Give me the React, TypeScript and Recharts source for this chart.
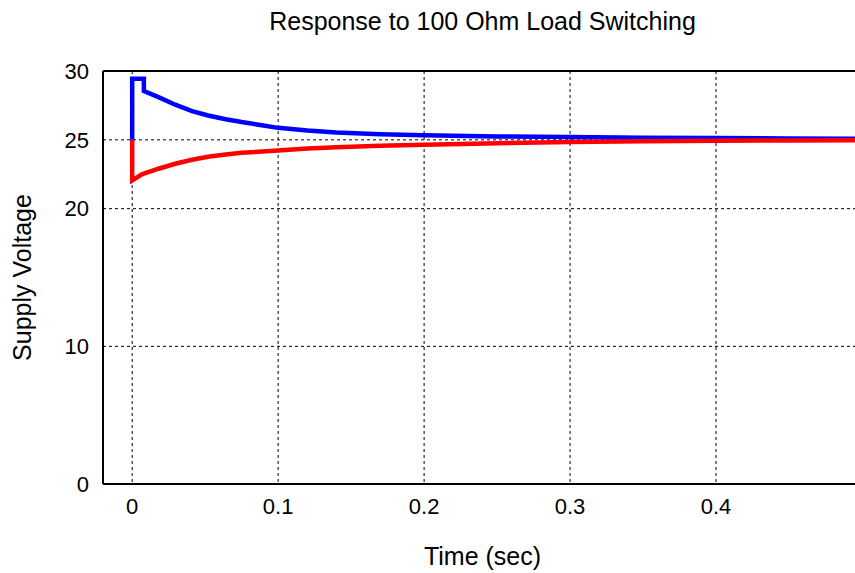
import { LineChart, Line, XAxis, YAxis, CartesianGrid } from 'recharts';

// sampled off the scope trace
const blueTime = [0, 0, 0.008, 0.008, 0.018, 0.0295, 0.041, 0.052, 0.064, 0.075, 0.0865, 0.1, 0.12, 0.14, 0.17, 0.2, 0.25, 0.3, 0.35, 0.4, 0.45, 0.5];
const blueVolt = [25, 29.44, 29.44, 28.54, 28.1, 27.55, 27.09, 26.77, 26.5, 26.29, 26.1, 25.87, 25.67, 25.53, 25.41, 25.33, 25.25, 25.2, 25.16, 25.13, 25.1, 25.08];

const redTime = [0, 0, 0.0066, 0.018, 0.0295, 0.041, 0.052, 0.064, 0.075, 0.0865, 0.1, 0.12, 0.14, 0.17, 0.2, 0.25, 0.3, 0.35, 0.4, 0.45, 0.5];
const redVolt = [25, 22.05, 22.49, 22.9, 23.26, 23.55, 23.77, 23.94, 24.06, 24.13, 24.23, 24.37, 24.47, 24.57, 24.64, 24.76, 24.84, 24.9, 24.94, 24.96, 24.97];

const xTicks = [0, 0.1, 0.2, 0.3, 0.4];
const yTicks = [0, 10, 20, 25, 30];
const xMinor = Array.from({ length: 27 }, (_, i) => Math.round((-0.02 + i * 0.02) * 100) / 100);
const yMinor = Array.from({ length: 16 }, (_, i) => i * 2);

const blueData = blueTime.map((t, i) => ({ t, v: blueVolt[i] }));
const redData = redTime.map((t, i) => ({ t, v: redVolt[i] }));

const font = '"Liberation Sans", Arial, sans-serif';

const YLabel = (props: any) => {
    const { viewBox } = props;
    const cx = 22;
    const cy = viewBox.y + viewBox.height / 2;
    return (
        <text x={cx} y={cy} transform={`rotate(-90 ${cx} ${cy})`} textAnchor="middle" dominantBaseline="central"
            fontSize={25} fontFamily={font} fill="#000">
            Supply Voltage
        </text>
    );
};

const XLabel = (props: any) => {
    const { viewBox } = props;
    const cx = viewBox.x + viewBox.width / 2;
    return (
        <text x={cx} y={556} textAnchor="middle" dominantBaseline="central" fontSize={25} fontFamily={font} fill="#000">
            Time (sec)
        </text>
    );
};

export default function App() {
    return (
        <div style={{ position: 'relative', width: 855, height: 573, overflow: 'hidden', background: '#fff' }}>
            <style>{`html,body{margin:0;overflow:hidden}`}</style>
            <div style={{
                position: 'absolute', top: 6, left: 103, width: 759, textAlign: 'center',
                fontFamily: font, fontSize: 25, color: '#000', lineHeight: '30px',
            }}>
                Response to 100 Ohm Load Switching
            </div>
            <LineChart width={862} height={573} margin={{ top: 71, right: 0, bottom: 0, left: 0 }}>
                <CartesianGrid stroke="#000" strokeDasharray="3 3" strokeWidth={1} />
                <XAxis
                    dataKey="t"
                    type="number"
                    domain={[-0.02, 0.5]}
                    ticks={xTicks}
                    interval={0}
                    allowDataOverflow
                    height={89}
                    tickLine={false}
                    tickSize={0}
                    tickMargin={14}
                    axisLine={{ stroke: '#000', strokeWidth: 2 }}
                    tick={{ fill: '#000', fontSize: 22, fontFamily: font }}
                    tickFormatter={(v) => `${v}`}
                    label={<XLabel />}
                />
                <XAxis xAxisId="minor" dataKey="t" type="number" domain={[-0.02, 0.5]} ticks={xMinor} interval={0}
                    allowDataOverflow mirror tick={false} tickSize={4} axisLine={false} tickLine={{ stroke: '#000' }} />
                <XAxis xAxisId="top" orientation="top" dataKey="t" type="number" domain={[-0.02, 0.5]} ticks={xMinor}
                    interval={0} allowDataOverflow mirror tick={false} tickSize={4}
                    axisLine={{ stroke: '#000', strokeWidth: 2 }} tickLine={{ stroke: '#000' }} />
                <YAxis
                    type="number"
                    domain={[0, 30]}
                    ticks={yTicks}
                    interval={0}
                    width={103}
                    tickLine={false}
                    tickSize={0}
                    tickMargin={14}
                    axisLine={{ stroke: '#000', strokeWidth: 2 }}
                    tick={{ fill: '#000', fontSize: 22, fontFamily: font }}
                    label={<YLabel />}
                />
                <YAxis yAxisId="minor" type="number" domain={[0, 30]} ticks={yMinor} interval={0} mirror
                    tick={false} tickSize={4} axisLine={false} tickLine={{ stroke: '#000' }} />
                <Line data={blueData} dataKey="v" type="linear" stroke="#0000ff" strokeWidth={4.5} dot={false}
                    isAnimationActive={false} />
                <Line data={redData} dataKey="v" type="linear" stroke="#ff0000" strokeWidth={4.5} dot={false}
                    isAnimationActive={false} />
            </LineChart>
        </div>
    );
}
